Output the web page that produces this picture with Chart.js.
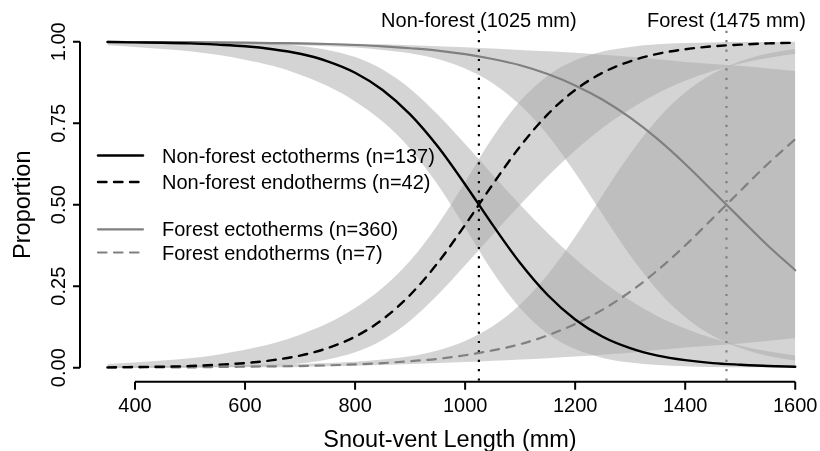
<!DOCTYPE html>
<html>
<head>
<meta charset="utf-8">
<script src="https://cdn.jsdelivr.net/npm/chart.js@4.4.1/dist/chart.umd.min.js"></script>
<style>
  body { margin: 0; background: #fff; }
  #wrap { width: 820px; height: 451px; }
</style>
</head>
<body>
<div id="wrap"><canvas id="myChart" width="820" height="451"></canvas></div>
<script>
const svl = [350, 400, 450, 500, 550, 600, 650, 700, 750, 800, 850, 900, 950, 1000, 1050, 1100, 1150, 1200, 1250, 1300, 1350, 1400, 1450, 1500, 1550, 1600];

// non-forest
const nfEcto   = [0.999, 0.998, 0.997, 0.995, 0.991, 0.986, 0.977, 0.963, 0.940, 0.905, 0.852, 0.777, 0.679, 0.562, 0.438, 0.321, 0.223, 0.148, 0.095, 0.060, 0.037, 0.023, 0.014, 0.009, 0.005, 0.003];
const nfEctoLo = [0.989, 0.984, 0.978, 0.971, 0.960, 0.945, 0.926, 0.899, 0.864, 0.817, 0.755, 0.672, 0.562, 0.430, 0.294, 0.182, 0.104, 0.057, 0.030, 0.016, 0.008, 0.004, 0.002, 0.001, 0.001, 0.000];
const nfEctoHi = [1.000, 1.000, 1.000, 0.999, 0.998, 0.996, 0.993, 0.987, 0.975, 0.953, 0.915, 0.856, 0.777, 0.686, 0.592, 0.500, 0.413, 0.334, 0.264, 0.206, 0.158, 0.120, 0.090, 0.067, 0.050, 0.037];
const nfEndo   = [0.001, 0.002, 0.003, 0.005, 0.009, 0.014, 0.023, 0.037, 0.060, 0.095, 0.148, 0.223, 0.321, 0.438, 0.562, 0.679, 0.777, 0.852, 0.905, 0.940, 0.963, 0.977, 0.986, 0.991, 0.995, 0.997];
const nfEndoLo = [0.000, 0.000, 0.000, 0.001, 0.002, 0.004, 0.007, 0.013, 0.025, 0.047, 0.085, 0.144, 0.223, 0.314, 0.408, 0.500, 0.587, 0.666, 0.736, 0.794, 0.842, 0.880, 0.910, 0.933, 0.950, 0.963];
const nfEndoHi = [0.011, 0.016, 0.022, 0.029, 0.040, 0.055, 0.074, 0.101, 0.136, 0.183, 0.245, 0.328, 0.438, 0.570, 0.706, 0.818, 0.896, 0.943, 0.970, 0.984, 0.992, 0.996, 0.998, 0.999, 0.999, 1.000];

// forest
const fEcto   = [1.000, 0.999, 0.999, 0.999, 0.998, 0.997, 0.996, 0.995, 0.993, 0.990, 0.986, 0.980, 0.973, 0.962, 0.947, 0.928, 0.901, 0.866, 0.822, 0.767, 0.701, 0.625, 0.542, 0.458, 0.375, 0.299];
const fEctoLo = [0.996, 0.996, 0.995, 0.994, 0.993, 0.992, 0.990, 0.989, 0.986, 0.982, 0.975, 0.965, 0.947, 0.918, 0.873, 0.806, 0.714, 0.598, 0.470, 0.344, 0.237, 0.155, 0.098, 0.060, 0.036, 0.022];
const fEctoHi = [1.000, 1.000, 1.000, 1.000, 0.999, 0.999, 0.999, 0.998, 0.996, 0.994, 0.992, 0.989, 0.986, 0.983, 0.979, 0.975, 0.971, 0.966, 0.960, 0.954, 0.946, 0.938, 0.932, 0.926, 0.918, 0.910];
const fEndo   = [0.000, 0.001, 0.001, 0.001, 0.002, 0.003, 0.004, 0.005, 0.007, 0.010, 0.014, 0.020, 0.027, 0.038, 0.053, 0.072, 0.099, 0.134, 0.178, 0.233, 0.299, 0.375, 0.458, 0.542, 0.625, 0.701];
const fEndoLo = [0.000, 0.000, 0.000, 0.000, 0.001, 0.001, 0.001, 0.002, 0.004, 0.006, 0.008, 0.011, 0.014, 0.017, 0.021, 0.025, 0.029, 0.034, 0.040, 0.046, 0.054, 0.062, 0.068, 0.074, 0.082, 0.090];
const fEndoHi = [0.004, 0.004, 0.005, 0.006, 0.007, 0.008, 0.010, 0.011, 0.014, 0.018, 0.025, 0.035, 0.053, 0.082, 0.127, 0.194, 0.286, 0.402, 0.530, 0.656, 0.763, 0.845, 0.902, 0.940, 0.964, 0.978];

const thresholds = [1025, 1475];
const thresholdLabels = ['Non-forest (1025 mm)', 'Forest (1475 mm)'];
const xTicks = [400, 600, 800, 1000, 1200, 1400, 1600];
const yTicks = [0, 0.25, 0.5, 0.75, 1];
const yTickLabels = ['0.00', '0.25', '0.50', '0.75', '1.00'];
const legendLabels = ['Non-forest ectotherms (n=137)', 'Non-forest endotherms (n=42)', 'Forest ectotherms (n=360)', 'Forest endotherms (n=7)'];
const xTitle = 'Snout-vent Length (mm)';
const yTitle = 'Proportion';

const FONT = '"Liberation Sans", Arial, sans-serif';
const BAND = 'rgba(169,169,169,0.5)';
const GREY = '#808080';

function pts(arr) {
  return svl.map((x, i) => ({ x: x, y: arr[i] }));
}

function band(lo, hi) {
  return [
    { data: pts(lo), borderColor: 'rgba(0,0,0,0)', borderWidth: 0, pointRadius: 0, fill: false, order: 3, cubicInterpolationMode: 'monotone' },
    { data: pts(hi), borderColor: 'rgba(0,0,0,0)', borderWidth: 0, pointRadius: 0, fill: '-1', backgroundColor: BAND, order: 3, cubicInterpolationMode: 'monotone' }
  ];
}

function curve(arr, color, dash, w) {
  return { data: pts(arr), borderColor: color, borderWidth: w, borderDash: dash, borderCapStyle: 'round', pointRadius: 0, fill: false, order: 0, cubicInterpolationMode: 'monotone' };
}

const datasets = [].concat(
  band(nfEctoLo, nfEctoHi),
  band(nfEndoLo, nfEndoHi),
  band(fEctoLo, fEctoHi),
  band(fEndoLo, fEndoHi)
);

// vertical reference lines
thresholds.forEach((t, i) => {
  datasets.push({
    data: [{ x: t, y: -0.04 }, { x: t, y: 1.04 }],
    borderColor: i === 0 ? '#000' : GREY,
    borderWidth: 2.2,
    borderDash: [2.2, 7.2],
    borderCapStyle: 'butt',
    pointRadius: 0,
    fill: false,
    order: 1
  });
});

datasets.push(curve(nfEcto, '#000', [], 2.4));
datasets.push(curve(nfEndo, '#000', [8.5, 7.5], 2.4));
datasets.push(curve(fEcto, GREY, [], 2.2));
datasets.push(curve(fEndo, GREY, [8.5, 7.5], 2.2));

const axesPlugin = {
  id: 'rAxes',
  afterDraw(chart) {
    const c = chart.ctx;
    const xs = chart.scales.x;
    const ys = chart.scales.y;
    const area = chart.chartArea;
    c.save();
    c.strokeStyle = '#000';
    c.fillStyle = '#000';
    c.lineWidth = 2;
    c.lineCap = 'butt';

    // x axis
    const ay = area.bottom + 1;
    c.beginPath();
    c.moveTo(xs.getPixelForValue(xTicks[0]), ay);
    c.lineTo(xs.getPixelForValue(xTicks[xTicks.length - 1]), ay);
    xTicks.forEach(t => {
      const px = xs.getPixelForValue(t);
      c.moveTo(px, ay);
      c.lineTo(px, ay + 8);
    });
    c.stroke();
    c.font = '20px ' + FONT;
    c.textAlign = 'center';
    c.textBaseline = 'alphabetic';
    xTicks.forEach(t => c.fillText(String(t), xs.getPixelForValue(t), 412));

    // y axis
    const ax = area.left;
    c.beginPath();
    c.moveTo(ax, ys.getPixelForValue(0));
    c.lineTo(ax, ys.getPixelForValue(1));
    yTicks.forEach(t => {
      const py = ys.getPixelForValue(t);
      c.moveTo(ax, py);
      c.lineTo(ax - 7, py);
    });
    c.stroke();
    yTicks.forEach((t, i) => {
      c.save();
      c.translate(64.5, ys.getPixelForValue(t));
      c.rotate(-Math.PI / 2);
      c.fillText(yTickLabels[i], 0, 0);
      c.restore();
    });

    // titles
    c.font = '23.5px ' + FONT;
    c.fillText(xTitle, (area.left + area.right) / 2, 446.5);
    c.save();
    c.translate(30, (area.top + area.bottom) / 2);
    c.rotate(-Math.PI / 2);
    c.fillText(yTitle, 0, 0);
    c.restore();

    // threshold labels
    c.font = '20px ' + FONT;
    thresholds.forEach((t, i) => c.fillText(thresholdLabels[i], xs.getPixelForValue(t), 27));

    // legend
    const rows = [155.5, 182, 229.3, 252.5];
    const cols = ['#000', '#000', GREY, GREY];
    const dashes = [[], [8.5, 7.5], [], [8.5, 7.5]];
    const widths = [2.4, 2.4, 2.2, 2.2];
    c.textAlign = 'left';
    c.textBaseline = 'middle';
    rows.forEach((ry, i) => {
      c.beginPath();
      c.strokeStyle = cols[i];
      c.lineWidth = widths[i];
      c.lineCap = 'round';
      c.setLineDash(dashes[i]);
      c.moveTo(98, ry);
      c.lineTo(143, ry);
      c.stroke();
      c.setLineDash([]);
      c.fillStyle = '#000';
      c.fillText(legendLabels[i], 162, ry + 1.5);
    });
    c.restore();
  }
};

const ctx = document.getElementById('myChart');
const chart = new Chart(ctx, {
  type: 'line',
  data: { datasets: datasets },
  options: {
    responsive: false,
    animation: false,
    devicePixelRatio: 1,
    layout: { padding: { left: 80, right: 0, top: 28.7, bottom: 70.3 } },
    scales: {
      x: { type: 'linear', min: 300, max: 1645, display: false },
      y: { type: 'linear', min: -0.04, max: 1.04, display: false }
    },
    plugins: {
      legend: { display: false },
      tooltip: { enabled: false },
      filler: { drawTime: 'beforeDatasetsDraw' }
    }
  },
  plugins: [axesPlugin]
});
</script>
</body>
</html>
